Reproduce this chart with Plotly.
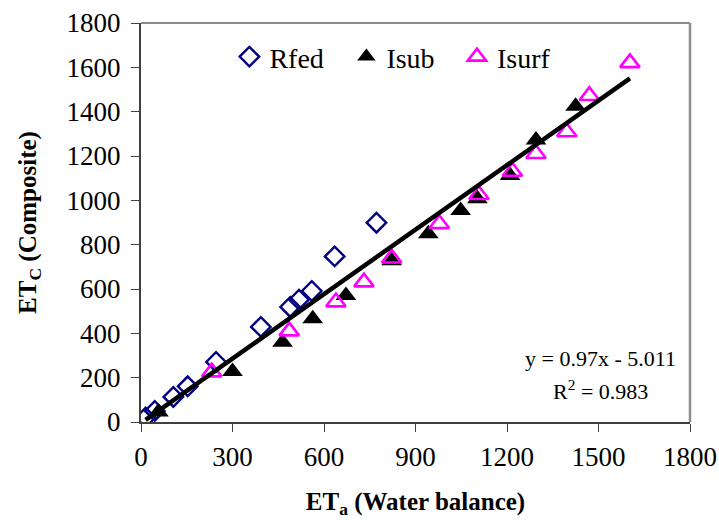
import plotly.graph_objects as go

# ---- data ----
rfed_x = [15, 45, 106, 153, 246, 393, 489, 518, 560, 635, 772]
rfed_y = [20, 50, 113, 161, 271, 429, 519, 552, 591, 747, 899]

isub_x = [57, 300, 464, 563, 672, 822, 942, 1048, 1103, 1210, 1295, 1425]
isub_y = [45, 228, 360, 466, 571, 727, 849, 954, 1007, 1112, 1272, 1424]

isurf_x = [232, 486, 639, 731, 822, 978, 1108, 1218, 1295, 1396, 1470, 1603]
isurf_y = [225, 410, 541, 631, 739, 894, 1025, 1130, 1210, 1308, 1472, 1620]

trend_slope = 0.97
trend_intercept = -5.011
trend_x = [15, 1603]
trend_y = [trend_slope * v + trend_intercept for v in trend_x]

x_ticks = [0, 300, 600, 900, 1200, 1500, 1800]
y_ticks = [0, 200, 400, 600, 800, 1000, 1200, 1400, 1600, 1800]

FONT = "Liberation Serif"

fig = go.Figure()
fig.add_trace(go.Scatter(
    x=rfed_x, y=rfed_y, mode="markers", name="Rfed", legend="legend",
    marker=dict(symbol="diamond-open", size=15, color="#000080",
                line=dict(width=2.4, color="#000080")),
))
fig.add_trace(go.Scatter(
    x=isub_x, y=isub_y, mode="markers", name="Isub", legend="legend",
    marker=dict(symbol="triangle-up", size=18, color="black",
                line=dict(width=0, color="black")),
))
fig.add_trace(go.Scatter(
    x=isurf_x, y=isurf_y, mode="markers", name="Isurf", legend="legend2",
    marker=dict(symbol="triangle-up-open", size=17, color="#FF00FF",
                line=dict(width=2.6, color="#FF00FF")),
))
fig.add_trace(go.Scatter(
    x=trend_x, y=trend_y, mode="lines", showlegend=False,
    line=dict(color="black", width=4.5),
))

legend_common = dict(
    orientation="h", yanchor="middle", y=0.915, xanchor="left",
    bgcolor="rgba(0,0,0,0)", font=dict(family=FONT, size=28),
    itemwidth=30, tracegroupgap=0,
)

fig.update_layout(
    width=719, height=532,
    margin=dict(l=141, r=29, t=23, b=110, autoexpand=False),
    paper_bgcolor="white", plot_bgcolor="white",
    font=dict(family=FONT, size=27, color="black"),
    showlegend=True,
    legend=dict(x=0.161, entrywidth=72, **legend_common),
    legend2=dict(x=0.5755, **legend_common),
    xaxis=dict(
        range=[0, 1800], tickvals=x_ticks, showgrid=False, zeroline=False,
        automargin=False,
        showline=True, linecolor="#404040", linewidth=2,
        ticks="outside", ticklen=8, tickwidth=1, tickcolor="#404040",
        tickfont=dict(family=FONT, size=27), ticklabelstandoff=2,
        title=dict(text="<b>ET<sub>a</sub> (Water balance)</b>",
                   font=dict(family=FONT, size=25), standoff=21),
    ),
    yaxis=dict(
        range=[0, 1800], tickvals=y_ticks, showgrid=False, zeroline=False,
        automargin=False,
        showline=True, linecolor="#404040", linewidth=2,
        ticks="outside", ticklen=8, tickwidth=1, tickcolor="#404040",
        tickfont=dict(family=FONT, size=27), ticklabelstandoff=5,
        title=dict(text="<b>ET<sub>C</sub> (Composite)</b>",
                   font=dict(family=FONT, size=25), standoff=23),
    ),
    shapes=[
        dict(type="line", xref="paper", yref="paper", x0=0, x1=1, y0=1, y1=1,
             line=dict(color="#8c8c8c", width=2)),
        dict(type="line", xref="paper", yref="paper", x0=1, x1=1, y0=0, y1=1,
             line=dict(color="#8c8c8c", width=2.5)),
    ],
    annotations=[
        dict(text="y = 0.97x - 5.011", xref="paper", yref="paper",
             x=0.837, y=0.158, xanchor="center", yanchor="middle",
             showarrow=False, font=dict(family=FONT, size=22)),
        dict(text="R<sup>2</sup> = 0.983", xref="paper", yref="paper",
             x=0.837, y=0.080, xanchor="center", yanchor="middle",
             showarrow=False, font=dict(family=FONT, size=22)),
    ],
)

fig.write_html("out.html")
